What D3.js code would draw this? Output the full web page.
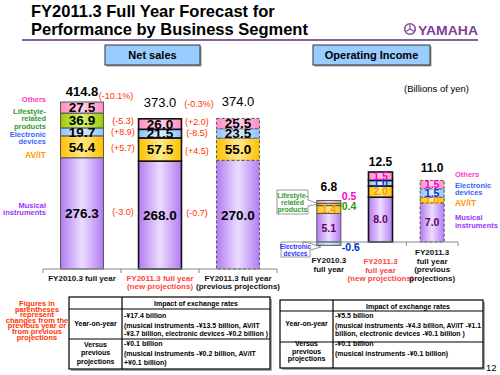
<!DOCTYPE html>
<html><head><meta charset="utf-8">
<script src="https://cdn.jsdelivr.net/npm/d3@7"></script>
<style>body{margin:0;background:#fff} svg{display:block}</style>
</head><body><svg id="c" width="500" height="375"></svg>
<script>
// ---------------- DATA ----------------
const nsPeriods = ["FY2010.3", "FY2011.3 new", "FY2011.3 prev"];
const segKeys = ["musical", "avit", "electronic", "lifestyle", "others"];
const nsMusical    = [276.3, 268.0, 270.0];
const nsAVIT       = [54.4, 57.5, 55.0];
const nsElectronic = [19.7, 21.5, 23.5];
const nsLifestyle  = [36.9, 0, 0];
const nsOthers     = [27.5, 26.0, 25.5];
const nsTotals     = [414.8, 373.0, 374.0];
const nsChangeA    = ["(-10.1%)", "(-5.3)", "(+8.9)", "(+5.7)", "(-3.0)"];   // total, lifestyle, electronic, AV/IT, musical
const nsChangeB    = ["(-0.3%)", "(+2.0)", "(-8.5)", "(+4.5)", "(-0.7)"];    // total, others, electronic, AV/IT, musical

const oiMusical    = [5.1, 8.0, 7.0];
const oiAVIT       = [1.4, 2.0, 1.0];
const oiElectronic = [-0.6, 1.0, 1.5];
const oiLifestyle  = [0.4, 0, 0];
const oiOthers     = [0.5, 1.5, 1.5];
const oiTotals     = [6.8, 12.5, 11.0];

const nsXLabels = [["FY2010.3 full year"], ["FY2011.3 full year", "(new projections)"], ["FY2011.3 full year", "(previous projections)"]];
const oiXLabels = [["FY2010.3", "full year"], ["FY2011.3", "full year", "(new projections)"], ["FY2011.3", "full year", "(previous", "projections)"]];

const tableLeft = {
  header: "Impact of exchange rates",
  row1Label: ["Year-on-year"],
  row1: ["-¥17.4 billion", "(musical instruments -¥13.5 billion, AV/IT", "-¥3.7 billion, electronic devices -¥0.2 billion )"],
  row2Label: ["Versus", "previous", "projections"],
  row2: ["-¥0.1 billion", "(musical instruments -¥0.2 billion, AV/IT", "+¥0.1 billion)"]
};
const tableRight = {
  header: "Impact of exchange rates",
  row1Label: ["Year-on-year"],
  row1: ["-¥5.5 billion", "(musical instruments -¥4.3 billion, AV/IT -¥1.1", "billion, electronic devices -¥0.1 billion )"],
  row2Label: ["Versus", "previous", "projections"],
  row2: ["-¥0.1 billion", "(musical instruments -¥0.1 billion)"]
};
const noteLines = ["Figures in", "parentheses", "represent", "changes from the", "previous year or", "from previous", "projections"];

// ---------------- STYLE ----------------
const ARIAL = "Arial,'Liberation Sans',sans-serif";
const NARROW = "'Liberation Sans Narrow','Arial Narrow',Arial,'Liberation Sans',sans-serif";
const fills = {
  musical:   ["#b27cf2", "#ecdcff"],
  avit:      ["#ffc200", "#ffe88c"],
  electronic:["#8cc4ff", "#dbeeff"],
  lifestyle: ["#99cc00", "#d8f07e"],
  others:    ["#ff8cc6", "#ffd3ea"]
};
const legendColor = {musical:"#9933ff", avit:"#ff9900", electronic:"#3366ff", lifestyle:"#339933", others:"#ff33cc"};
const oiLabelColor = {musical:"#660066", avit:"#ff9900", electronic:"#0033cc", lifestyle:"#339900", others:"#ff00cc"};
const RED = "#ff3300";
const barStroke = [{c:"#555", w:1, d:null}, {c:"#111", w:1.6, d:null}, {c:"#555", w:1, d:"3,2"}];

const svg = d3.select("#c");
const defs = svg.append("defs");
Object.entries(fills).forEach(([k, [edge, mid]]) => {
  const g = defs.append("linearGradient").attr("id", "g-" + k).attr("x1", 0).attr("x2", 1).attr("y1", 0).attr("y2", 0);
  g.append("stop").attr("offset", 0).attr("stop-color", edge);
  g.append("stop").attr("offset", 0.5).attr("stop-color", mid);
  g.append("stop").attr("offset", 1).attr("stop-color", edge);
});

function multiline(g, x, y, arr, lh, opts, maxW) {
  const t = g.append("text").attr("x", x).attr("y", y);
  Object.entries(opts).forEach(([k, v]) => t.attr(k, v));
  arr.forEach((s, i) => {
    const ts = t.append("tspan").attr("x", x).attr("y", y + i * lh).text(s);
    if (maxW && ts.node().getComputedTextLength() > maxW) ts.attr("textLength", maxW).attr("lengthAdjust", "spacingAndGlyphs");
  });
  return t;
}

// ---------------- HEADER ----------------
svg.append("text").attr("x", 31).attr("y", 17).attr("font-family", ARIAL).attr("font-weight", "bold")
  .attr("font-size", 16.5).text("FY2011.3 Full Year Forecast for");
svg.append("text").attr("x", 31).attr("y", 35).attr("font-family", ARIAL).attr("font-weight", "bold")
  .attr("font-size", 16.5).text("Performance by Business Segment");
svg.append("line").attr("x1", 22).attr("x2", 478).attr("y1", 40).attr("y2", 40).attr("stroke", "#84649c").attr("stroke-width", 2);
// Yamaha logo
const logo = svg.append("g");
logo.append("circle").attr("cx", 410).attr("cy", 29).attr("r", 5.3).attr("fill", "#fff").attr("stroke", "#8a4ca0").attr("stroke-width", 1.6);
[0, 120, 240].forEach(a => {
  logo.append("line").attr("x1", 410).attr("y1", 29).attr("x2", 410).attr("y2", 24.5)
    .attr("stroke", "#8a4ca0").attr("stroke-width", 1.3).attr("transform", `rotate(${a},410,29)`);
});
logo.append("text").attr("x", 418).attr("y", 34.5).attr("font-family", ARIAL).attr("font-weight", "bold")
  .attr("font-size", 13.5).attr("fill", "#7e3f96").attr("textLength", 60).attr("lengthAdjust", "spacingAndGlyphs").text("YAMAHA");

function titleBox(x, w, label) {
  svg.append("rect").attr("x", x + 1.5).attr("y", 46.5).attr("width", w).attr("height", 20).attr("fill", "#999");
  svg.append("rect").attr("x", x).attr("y", 45).attr("width", w).attr("height", 20).attr("fill", "#99ccff").attr("stroke", "#333").attr("stroke-width", 1);
  svg.append("text").attr("x", x + w / 2).attr("y", 59).attr("text-anchor", "middle").attr("font-family", ARIAL)
    .attr("font-weight", "bold").attr("font-size", 11).text(label);
}
titleBox(105, 95, "Net sales");
titleBox(313, 117, "Operating Income");

// ---------------- NET SALES CHART ----------------
const nsRows = nsPeriods.map((p, i) => ({period: p, musical: nsMusical[i], avit: nsAVIT[i], electronic: nsElectronic[i], lifestyle: nsLifestyle[i], others: nsOthers[i]}));
const nsX = d3.scaleBand().domain(nsPeriods).range([43, 277]).paddingInner(0.45).paddingOuter(0.225);
const nsY = d3.scaleLinear().domain([0, 500]).range([269, 269 - 500 * 0.4026]);
const nsStack = d3.stack().keys(segKeys).offset(d3.stackOffsetDiverging)(nsRows);
const nsG = svg.append("g");

nsStack.forEach(layer => {
  layer.forEach((d, i) => {
    if (d[1] - d[0] === 0) return;
    const s = barStroke[i];
    nsG.append("rect").attr("x", nsX(nsPeriods[i])).attr("width", nsX.bandwidth())
      .attr("y", nsY(d[1])).attr("height", nsY(d[0]) - nsY(d[1]))
      .attr("fill", `url(#g-${layer.key})`).attr("stroke", s.c).attr("stroke-width", s.w)
      .attr("stroke-dasharray", s.d);
  });
});
nsStack.forEach(layer => {
  layer.forEach((d, i) => {
    if (d[1] - d[0] === 0) return;
    nsG.append("text").attr("x", nsX(nsPeriods[i]) + nsX.bandwidth() / 2).attr("y", nsY((d[0] + d[1]) / 2))
      .attr("dy", "0.36em").attr("text-anchor", "middle").attr("font-family", ARIAL).attr("font-weight", "bold")
      .attr("font-size", 13.5).text((d[1] - d[0]).toFixed(1));
  });
});
// axis
nsG.append("line").attr("x1", nsX.range()[0]).attr("x2", nsX.range()[1]).attr("y1", nsY(0)).attr("y2", nsY(0)).attr("stroke", "#888").attr("stroke-width", 1);
d3.range(nsPeriods.length + 1).forEach(i => {
  const x = nsX.range()[0] + i * nsX.step();
  nsG.append("line").attr("x1", x).attr("x2", x).attr("y1", nsY(0)).attr("y2", nsY(0) + 4).attr("stroke", "#888");
});
// totals
nsTotals.forEach((t, i) => {
  nsG.append("text").attr("x", nsX(nsPeriods[i]) + nsX.bandwidth() / 2).attr("y", nsY(t) - (i === 0 ? 6 : 12))
    .attr("text-anchor", "middle").attr("font-family", ARIAL).attr("font-weight", i === 0 ? "bold" : "normal")
    .attr("font-size", 13).text(t.toFixed(1));
});
// change annotations
function midOf(key, i) { const l = nsStack.find(s => s.key === key)[i]; return nsY((l[0] + l[1]) / 2); }
const gapA = (nsX(nsPeriods[0]) + nsX.bandwidth() + nsX(nsPeriods[1])) / 2;
const gapB = (nsX(nsPeriods[1]) + nsX.bandwidth() + nsX(nsPeriods[2])) / 2;
const annA = [[nsY(nsTotals[0]) - 3, nsChangeA[0], -5], [midOf("lifestyle", 0) + 3, nsChangeA[1], 2], [midOf("electronic", 0) + 3, nsChangeA[2], 2], [midOf("avit", 0) + 4, nsChangeA[3], 2], [midOf("musical", 0) + 2, nsChangeA[4], 2]];
const annB = [[nsY(nsTotals[1]) - 12, nsChangeB[0], 0], [midOf("others", 1) + 1, nsChangeB[1], -2], [midOf("electronic", 1) + 2, nsChangeB[2], -2], [midOf("avit", 1) + 4, nsChangeB[3], -2], [midOf("musical", 1) + 1, nsChangeB[4], -2]];
[[gapA, annA], [gapB, annB]].forEach(([gx, arr]) => arr.forEach(([y, txt, dx]) => {
  nsG.append("text").attr("x", gx + dx).attr("y", y).attr("text-anchor", "middle").attr("font-family", ARIAL)
    .attr("font-size", 9).attr("fill", RED).text(txt);
}));
// x labels
nsXLabels.forEach((arr, i) => {
  multiline(nsG, nsX(nsPeriods[i]) + nsX.bandwidth() / 2, 280.5, arr, 8, {"text-anchor": "middle", "font-family": NARROW, "font-weight": "bold", "font-size": 8, "fill": i === 1 ? "#ff4444" : "#111"});
});
// left legend
const nsLeg = [["others", ["Others"], 101.5], ["lifestyle", ["Lifestyle-", "related", "products"], 113.5], ["electronic", ["Electronic", "devices"], 136.5], ["avit", ["AV/IT"], 157.5], ["musical", ["Musical", "instruments"], 207.5]];
nsLeg.forEach(([k, arr, y]) => multiline(nsG, 46, y, arr, 7.6, {"text-anchor": "end", "font-family": NARROW, "font-weight": "bold", "font-size": k === "avit" ? 8.5 : 7.5, "fill": legendColor[k]}));

// ---------------- OPERATING INCOME CHART ----------------
const oiRows = nsPeriods.map((p, i) => ({period: p, musical: oiMusical[i], avit: oiAVIT[i], electronic: oiElectronic[i], lifestyle: oiLifestyle[i], others: oiOthers[i]}));
const oiX = d3.scaleBand().domain(nsPeriods).range([303, 458]).paddingInner(0.535).paddingOuter(0.2675);
const oiY = d3.scaleLinear().domain([-1, 14]).range([242 + 5.6, 242 - 14 * 5.6]);
const oiStack = d3.stack().keys(segKeys).offset(d3.stackOffsetDiverging)(oiRows);
const oiG = svg.append("g");

// callouts (drawn first, behind bars)
oiG.append("path").attr("d", "M277,190 H308 V200 L319,204 L308,206 V214 H277 Z").attr("fill", "#fff").attr("stroke", "#999").attr("stroke-width", 1);
multiline(oiG, 292.5, 197.5, ["Lifestyle-", "related", "products"], 7.2, {"text-anchor": "middle", "font-family": NARROW, "font-weight": "bold", "font-size": 7, "fill": "#339933"});
oiG.append("path").attr("d", "M281,242 H306 L321,247 L310,250 V257 H281 Z").attr("fill", "#fff").attr("stroke", "#999").attr("stroke-width", 1);
multiline(oiG, 295.5, 248.5, ["Electronic", "devices"], 7, {"text-anchor": "middle", "font-family": NARROW, "font-weight": "bold", "font-size": 6.5, "fill": "#3333ff"});

oiStack.forEach(layer => {
  layer.forEach((d, i) => {
    if (d[1] - d[0] === 0) return;
    const s = barStroke[i];
    oiG.append("rect").attr("x", oiX(nsPeriods[i])).attr("width", oiX.bandwidth())
      .attr("y", oiY(d[1])).attr("height", oiY(d[0]) - oiY(d[1]))
      .attr("fill", `url(#g-${layer.key})`).attr("stroke", s.c).attr("stroke-width", s.w)
      .attr("stroke-dasharray", s.d);
  });
});
// axis
oiG.append("line").attr("x1", oiX.range()[0]).attr("x2", oiX.range()[1]).attr("y1", oiY(0)).attr("y2", oiY(0)).attr("stroke", "#888");
d3.range(nsPeriods.length + 1).forEach(i => {
  const x = oiX.range()[0] + i * oiX.step();
  oiG.append("line").attr("x1", x).attr("x2", x).attr("y1", oiY(0)).attr("y2", oiY(0) + 4).attr("stroke", "#888");
});
// values
oiStack.forEach(layer => {
  layer.forEach((d, i) => {
    const v = d[1] - d[0];
    if (v === 0) return;
    const val = layer.key === "electronic" && oiElectronic[i] < 0 ? oiElectronic[i] : v;
    const cx = oiX(nsPeriods[i]) + oiX.bandwidth() / 2;
    let x = cx, y = oiY((d[0] + d[1]) / 2), anchor = "middle";
    const outside = i === 0 && (layer.key === "others" || layer.key === "lifestyle" || val < 0);
    if (outside) {
      x = oiX(nsPeriods[i]) + oiX.bandwidth() + 1; anchor = "start";
      if (layer.key === "others") y -= 6;
      if (layer.key === "lifestyle") y += 1.5;
      if (val < 0) y = oiY(val) + 1.5;
    }
    oiG.append("text").attr("x", x).attr("y", y).attr("dy", "0.36em").attr("text-anchor", anchor)
      .attr("font-family", ARIAL).attr("font-weight", "bold").attr("font-size", 10.5)
      .attr("fill", oiLabelColor[layer.key]).text(val.toFixed(1));
  });
});
oiTotals.forEach((t, i) => {
  const top = d3.max(oiStack, l => l[i][1]);
  oiG.append("text").attr("x", oiX(nsPeriods[i]) + oiX.bandwidth() / 2).attr("y", oiY(top) - [10, 6, 8.5][i])
    .attr("text-anchor", "middle").attr("font-family", ARIAL).attr("font-weight", "bold").attr("font-size", 12).text(t.toFixed(1));
});
// x labels
oiXLabels.forEach((arr, i) => {
  multiline(oiG, oiX(nsPeriods[i]) + oiX.bandwidth() / 2, [263, 264, 255][i], arr, 8.6, {"text-anchor": "middle", "font-family": NARROW, "font-weight": "bold", "font-size": 8, "fill": i === 1 ? "#ff4444" : "#111"});
});
// right legend
const oiLeg = [["others", ["Others"], 176.5], ["electronic", ["Electronic", "devices"], 187.5], ["avit", ["AV/IT"], 206], ["musical", ["Musical", "instruments"], 220]];
oiLeg.forEach(([k, arr, y]) => multiline(oiG, 455, y, arr, 7.8, {"font-family": NARROW, "font-weight": "bold", "font-size": k === "avit" ? 8.5 : 7.5, "fill": legendColor[k]}));
svg.append("text").attr("x", 404).attr("y", 92).attr("font-family", ARIAL).attr("font-size", 9.5).text("(Billions of yen)");

// ---------------- TABLES ----------------
function table(t, x0, x1, xc, y0, yh, yr1, y1, lineYs) {
  const g = svg.append("g");
  g.append("rect").attr("x", x0 + 2).attr("y", y0 + 2).attr("width", x1 - x0).attr("height", y1 - y0).attr("fill", "#aaa");
  g.append("rect").attr("x", x0).attr("y", y0).attr("width", x1 - x0).attr("height", y1 - y0).attr("fill", "#fff").attr("stroke", "#000").attr("stroke-width", 1.2);
  g.append("line").attr("x1", xc).attr("x2", xc).attr("y1", y0).attr("y2", y1).attr("stroke", "#000").attr("stroke-width", 1.2);
  [yh, yr1].forEach(y => g.append("line").attr("x1", x0).attr("x2", x1).attr("y1", y).attr("y2", y).attr("stroke", "#000").attr("stroke-width", 1.2));
  const f = {"font-family": NARROW, "font-weight": "bold", "font-size": 7};
  const maxW = x1 - xc - 4;
  g.append("text").attr("x", (xc + x1) / 2).attr("y", y0 + 9).attr("text-anchor", "middle").attr("font-family", NARROW).attr("font-weight", "bold").attr("font-size", 7).text(t.header);
  multiline(g, (x0 + xc) / 2, lineYs.l1, t.row1Label, 8, Object.assign({"text-anchor": "middle"}, f));
  multiline(g, xc + 2, lineYs.r1[0], [t.row1[0]], 0, f, maxW);
  multiline(g, xc + 2, lineYs.r1[1], t.row1.slice(1), 8.5, f, maxW);
  multiline(g, (x0 + xc) / 2, lineYs.l2, t.row2Label, lineYs.l2h, Object.assign({"text-anchor": "middle"}, f));
  multiline(g, xc + 2, lineYs.r2[0], [t.row2[0]], 0, f, maxW);
  multiline(g, xc + 2, lineYs.r2[1], t.row2.slice(1), 8.5, f, maxW);
}
table(tableLeft, 69, 270, 122, 297, 309, 339, 369, {l1: 326, r1: [317.5, 327.5], l2: 346.5, l2h: 8.7, r2: [346, 356]});
table(tableRight, 280, 483, 333, 300, 311, 342, 368, {l1: 326, r1: [317.5, 327.5], l2: 346, l2h: 7.5, r2: [346, 356]});

multiline(svg, 37, 306, noteLines, 5.6, {"text-anchor": "middle", "font-family": NARROW, "font-weight": "bold", "font-size": 7.5, "fill": RED});
svg.append("text").attr("x", 486).attr("y", 371).attr("font-family", ARIAL).attr("font-size", 9.5).text("12");
</script>
</body></html>
